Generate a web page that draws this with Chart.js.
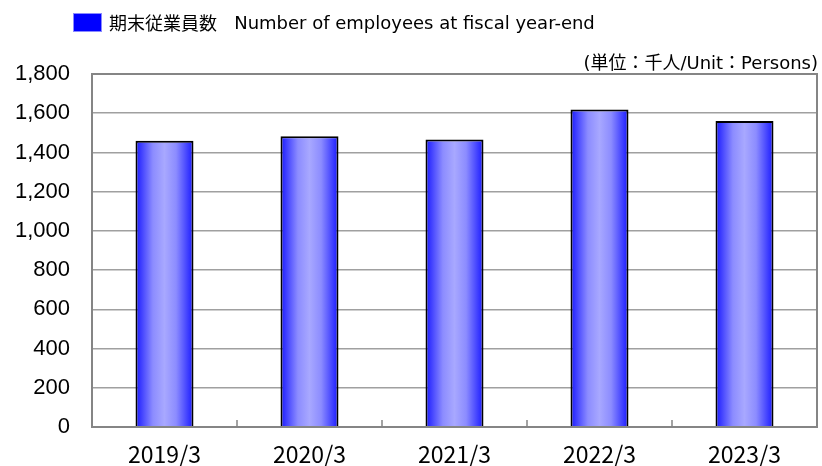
<!DOCTYPE html>
<html>
<head>
<meta charset="utf-8">
<script src="https://cdn.jsdelivr.net/npm/chart.js@4.4.1/dist/chart.umd.min.js"></script>
<style>
  html, body { margin: 0; padding: 0; background: #fff; }
  #wrap { position: relative; width: 822px; height: 466px; }
  #legend { position: absolute; left: 73px; top: 10px; height: 24px; display: flex; align-items: center;
            font-family: "DejaVu Sans", "Noto Sans CJK JP", sans-serif; font-size: 18px; color: #000; white-space: pre; }
  #legend .box { width: 27px; height: 17px; background: #0000ff; border: 1px solid #8a8aff; margin-right: 7px; }
  #legend .jp { font-family: "Noto Sans CJK JP", sans-serif; font-size: 18px; margin-right: 0px; }
  #unit { position: absolute; right: 4px; top: 48px; font-family: "DejaVu Sans", "Noto Sans CJK JP", sans-serif;
          font-size: 18px; color: #000; white-space: pre; }
</style>
</head>
<body>
<div id="wrap">
  <canvas id="chart" width="822" height="466"></canvas>
  <div id="legend"><span class="box"></span><span class="jp">期末従業員数</span>   Number of employees at fiscal year-end</div>
  <div id="unit">(単位：千人/Unit：Persons)</div>
</div>
<script>
// Data
const categories = ['2019/3', '2020/3', '2021/3', '2022/3', '2023/3'];
const employees = [1459, 1483, 1466, 1619, 1560];
const yTicks = [0, 200, 400, 600, 800, 1000, 1200, 1400, 1600, 1800];

const BAR_PCT = 0.4;

// Horizontal gradient per bar: dark blue edges, pale centre
function barGradient(c) {
    const chart = c.chart;
    const xs = chart.scales.x;
    if (!xs || c.type !== 'data') return '#5050ff';
    const cx = xs.getPixelForValue(c.dataIndex);
    const w = (xs.width / categories.length) * BAR_PCT;
    if (!isFinite(cx) || !isFinite(w) || w <= 0) return '#5050ff';
    const g = chart.ctx.createLinearGradient(cx - w / 2, 0, cx + w / 2, 0);
    g.addColorStop(0, '#1818ff');
    g.addColorStop(0.3, '#8c8cff');
    g.addColorStop(0.5, '#a8a8ff');
    g.addColorStop(0.7, '#8c8cff');
    g.addColorStop(1, '#1818ff');
    return g;
}

// Frame round the plot and the small inward ticks between categories
const framePlugin = {
    id: 'frame',
    afterDatasetsDraw(chart) {
        const { ctx, chartArea: a, scales: { x } } = chart;
        ctx.save();
        ctx.strokeStyle = '#858585';
        ctx.lineWidth = 2;
        ctx.strokeRect(a.left, a.top, a.right - a.left, a.bottom - a.top);
        ctx.lineWidth = 1.5;
        const step = x.width / categories.length;
        for (let i = 1; i < categories.length; i++) {
            const px = a.left + i * step;
            ctx.beginPath();
            ctx.moveTo(px, a.bottom);
            ctx.lineTo(px, a.bottom - 7);
            ctx.stroke();
        }
        ctx.restore();
    }
};

const ctx = document.getElementById('chart').getContext('2d');
const chart = new Chart(ctx, {
    type: 'bar',
    data: {
        labels: categories,
        datasets: [{
            label: '期末従業員数 Number of employees at fiscal year-end',
            data: employees,
            backgroundColor: barGradient,
            borderColor: '#000',
            borderWidth: 2,
            borderSkipped: 'bottom',
            barPercentage: BAR_PCT,
            categoryPercentage: 1
        }]
    },
    options: {
        responsive: false,
        animation: false,
        layout: { padding: { top: 74, right: 5, left: 0, bottom: 0 } },
        plugins: {
            legend: { display: false },
            tooltip: { enabled: false }
        },
        scales: {
            x: {
                grid: { display: false },
                border: { display: false },
                ticks: {
                    color: '#000',
                    padding: 5,
                    font: { family: '"Noto Sans CJK JP"', size: 23, lineHeight: 1.2 }
                },
                afterFit(scale) { scale.height = 39; }
            },
            y: {
                min: 0,
                max: 1800,
                afterBuildTicks(scale) { scale.ticks = yTicks.map(v => ({ value: v })); },
                grid: { color: '#a0a0a0', lineWidth: 1.5, drawTicks: false },
                border: { display: false },
                ticks: {
                    color: '#000',
                    padding: 22,
                    font: { family: '"Liberation Sans", Arial', size: 22 },
                    callback: v => v.toLocaleString('en-US')
                },
                afterFit(scale) { scale.width = 92; }
            }
        }
    },
    plugins: [framePlugin]
});
// redraw once the scales exist so the bar gradients resolve
chart.update();
</script>
</body>
</html>
